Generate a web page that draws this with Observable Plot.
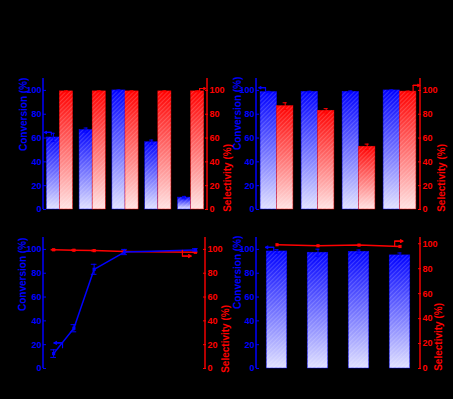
<!DOCTYPE html>
<html><head><meta charset="utf-8">
<script src="https://cdn.jsdelivr.net/npm/d3@7"></script>
<script src="https://cdn.jsdelivr.net/npm/@observablehq/plot@0.6"></script>
<style>
html,body{margin:0;padding:0;background:#000;}
#chart{position:relative;width:453px;height:399px;background:#000;overflow:hidden;}
#chart svg{position:absolute;left:0;top:0;}
</style></head><body><div id="chart"></div>
<script>
// ---- data ----
const yTicks = [0, 20, 40, 60, 80, 100];
const convLabel = ["Conversion (%)"];
const selLabel = ["Selectivity (%)"];

// panel a (top-left): 5 catalysts
const groupsA = [1, 2, 3, 4, 5];
const convA = [60.5, 66.7, 100, 56.5, 10];
const convErrA = [3.5, 1.7, 0.4, 1.8, 1];
const selA = [99.2, 99.2, 99.2, 99.2, 99.2];
const selErrA = [0.4, 0.4, 0.4, 0.4, 0.4];

// panel b (top-right): 4 substrates
const groupsB = [1, 2, 3, 4];
const convB = [98.6, 98.8, 98.8, 100];
const convErrB = [0.6, 0.5, 0.8, 0.4];
const selB = [86.8, 82.9, 52.7, 99];
const selErrB = [2.8, 1.8, 2.2, 0.4];

// panel c (bottom-left): time course
const timeC = [1, 2, 3, 4.5, 8];
const convC = [12.5, 33.8, 83.3, 97.8, 99.6];
const convErrC = [3.2, 3, 4.2, 2.2, 1];
const selC = [99.7, 99.3, 99, 98.2, 97.6];
const selErrC = [0.3, 0.3, 0.3, 0.5, 0.3];

// panel d (bottom-right): recycling runs
const groupsD = [1, 2, 3, 4];
const convD = [98.3, 97.2, 98, 95];
const convErrD = [1.5, 3, 1.5, 2];
const selD = [99.2, 98.4, 98.9, 97.8];

// annotation arrows (data units): polyline, last segment carries the head
const arrowA_conv = [[0.74, 62.5], [0.74, 64.7], [0.53, 64.7]];
const arrowA_sel = [[5.26, 99.2], [5.26, 101.6], [5.44, 101.6]];
const arrowB_conv = [[0.72, 99.4], [0.72, 102.3], [0.56, 102.3]];
const arrowB_sel = [[4.32, 100], [4.32, 104.2], [4.48, 104.2]];
const arrowC_conv = [[1.44, 17.5], [1.44, 21.5], [1.02, 21.5]];
const arrowC_sel = [[7.36, 99.2], [7.36, 94.4], [7.79, 94.4]];
const arrowD_conv = [[0.92, 98.9], [0.92, 101.7], [0.72, 101.7]];
const arrowD_sel = [[4.0, 97.8], [3.87, 97.8], [3.87, 102.1], [4.07, 102.1]];

// ---- styling helpers ----
const W = 453, H = 399;
const BLUE = "#0000ff", RED = "#ff0000", RED_AX = "#f00000";
const FONT = "'Liberation Sans', Arial, Helvetica, sans-serif";
const baseStyle = {background: "transparent", overflow: "visible", fontFamily: FONT, fontWeight: "bold", fontSize: "9px"};

function defsMark(id) {
  return () => {
    const g = d3.create("svg:g");
    const defs = g.append("defs");
    const gb = defs.append("linearGradient").attr("id", id + "gB").attr("x1", 0).attr("y1", 0).attr("x2", 0).attr("y2", 1);
    gb.append("stop").attr("offset", 0).attr("stop-color", "#0000ff");
    gb.append("stop").attr("offset", 1).attr("stop-color", "#e0e0ff");
    const gr = defs.append("linearGradient").attr("id", id + "gR").attr("x1", 0).attr("y1", 0).attr("x2", 0).attr("y2", 1);
    gr.append("stop").attr("offset", 0).attr("stop-color", "#ff0000");
    gr.append("stop").attr("offset", 1).attr("stop-color", "#ffe2e2");
    const p = defs.append("pattern").attr("id", id + "h").attr("patternUnits", "userSpaceOnUse")
      .attr("width", 3).attr("height", 3).attr("patternTransform", "rotate(45)");
    p.append("rect").attr("width", 1).attr("height", 3).attr("fill", "#ffffff").attr("fill-opacity", 0.18);
    return g.node();
  };
}

function axisLine(side, color) {
  return (index, scales, values, dims) => {
    const x = side === "left" ? dims.marginLeft : dims.width - dims.marginRight;
    return d3.create("svg:line").attr("x1", x).attr("x2", x)
      .attr("y1", dims.marginTop).attr("y2", dims.height - dims.marginBottom)
      .attr("stroke", color).attr("stroke-width", 1.5).node();
  };
}

function yAxis(side, color) {
  return Plot.axisY({anchor: side, ticks: yTicks, tickSize: -3, tickPadding: 5, color, fontSize: 9, label: null});
}

function axisLabel(text, side, color, dx, dy = 0) {
  return Plot.text(text, {text: d => d, frameAnchor: side, rotate: -90, dx, dy, fill: color, fontSize: 10, fontWeight: "bold"});
}

function errorBars(data, xf, yf, ef, color, cap) {
  return [
    Plot.ruleX(data, {x: xf, y1: d => yf(d) - ef(d), y2: d => yf(d) + ef(d), stroke: color, strokeWidth: 1}),
    Plot.ruleY(data, {y: d => yf(d) + ef(d), x1: d => xf(d) - cap, x2: d => xf(d) + cap, stroke: color, strokeWidth: 1}),
    Plot.ruleY(data, {y: d => yf(d) - ef(d), x1: d => xf(d) - cap, x2: d => xf(d) + cap, stroke: color, strokeWidth: 1})
  ];
}

function bentArrow(path, color) {
  const n = path.length;
  const pts = path.map(([x, y]) => ({x, y}));
  return [
    Plot.line(pts, {x: "x", y: "y", stroke: color, strokeWidth: 1.2}),
    Plot.arrow([{a: path[n - 2], b: path[n - 1]}], {x1: d => d.a[0], y1: d => d.a[1], x2: d => d.b[0], y2: d => d.b[1], stroke: color, strokeWidth: 1.2, headLength: 4})
  ];
}

function bars(data, id, x1f, x2f, yf, color, grad) {
  return [
    Plot.rect(data, {x1: x1f, x2: x2f, y1: () => 0, y2: yf, fill: `url(#${id}${grad})`, stroke: color, strokeWidth: 0.6, strokeOpacity: 0.8}),
    Plot.rect(data, {x1: x1f, x2: x2f, y1: () => 0, y2: yf, fill: `url(#${id}h)`})
  ];
}

function frame(m, xDomain, yDomain, marks) {
  return Plot.plot({
    width: W, height: H,
    marginLeft: m[0], marginRight: m[1], marginTop: m[2], marginBottom: m[3],
    x: {domain: xDomain, axis: null},
    y: {domain: yDomain, axis: null},
    style: baseStyle,
    marks
  });
}

const chart = document.getElementById("chart");

// ---- panel a ----
const dA = groupsA.map((g, i) => ({g, conv: convA[i], ce: convErrA[i], sel: selA[i], se: selErrA[i]}));
chart.append(frame([43, 246, 78, 190], [0.5, 5.5], [0, 110], [
  defsMark("pa"),
  ...bars(dA, "pa", d => d.g - 0.4, d => d.g, d => d.conv, BLUE, "gB"),
  ...bars(dA, "pa", d => d.g, d => d.g + 0.4, d => d.sel, RED, "gR"),
  ...errorBars(dA, d => d.g - 0.2, d => d.conv, d => d.ce, BLUE, 0.06),
  ...errorBars(dA, d => d.g + 0.2, d => d.sel, d => d.se, RED, 0.06),
  axisLine("left", BLUE), axisLine("right", RED_AX),
  yAxis("left", BLUE), yAxis("right", RED),
  axisLabel(convLabel, "left", BLUE, -20, 7),
  axisLabel(selLabel, "right", RED, 20, 0),
  ...bentArrow(arrowA_conv, BLUE),
  ...bentArrow(arrowA_sel, RED)
]));

// ---- panel b ----
const dB = groupsB.map((g, i) => ({g, conv: convB[i], ce: convErrB[i], sel: selB[i], se: selErrB[i]}));
chart.append(frame([256, 33, 78, 190], [0.5, 4.5], [0, 110], [
  defsMark("pb"),
  ...bars(dB, "pb", d => d.g - 0.4, d => d.g, d => d.conv, BLUE, "gB"),
  ...bars(dB, "pb", d => d.g, d => d.g + 0.4, d => d.sel, RED, "gR"),
  ...errorBars(dB, d => d.g - 0.2, d => d.conv, d => d.ce, BLUE, 0.05),
  ...errorBars(dB, d => d.g + 0.2, d => d.sel, d => d.se, RED, 0.05),
  axisLine("left", BLUE), axisLine("right", RED_AX),
  yAxis("left", BLUE), yAxis("right", RED),
  axisLabel(convLabel, "left", BLUE, -19, 6),
  axisLabel(selLabel, "right", RED, 21, 0),
  ...bentArrow(arrowB_conv, BLUE),
  ...bentArrow(arrowB_sel, RED)
]));

// ---- panel c ----
const dC = timeC.map((t, i) => ({t, conv: convC[i], ce: convErrC[i], sel: selC[i], se: selErrC[i]}));
chart.append(frame([43, 248, 237, 31], [0.5, 8.5], [0, 110], [
  Plot.line(dC, {x: "t", y: "sel", stroke: RED, strokeWidth: 1.5}),
  ...errorBars(dC, d => d.t, d => d.sel, d => d.se, RED, 0.12),
  Plot.dot(dC, {x: "t", y: "sel", symbol: "square", r: 1.8, fill: RED}),
  Plot.line(dC, {x: "t", y: "conv", stroke: BLUE, strokeWidth: 1.5}),
  ...errorBars(dC, d => d.t, d => d.conv, d => d.ce, BLUE, 0.14),
  Plot.dot(dC, {x: "t", y: "conv", symbol: "square", r: 1.8, fill: BLUE}),
  axisLine("left", BLUE), axisLine("right", RED_AX),
  yAxis("left", BLUE), yAxis("right", RED),
  axisLabel(convLabel, "left", BLUE, -21, 8),
  axisLabel(selLabel, "right", RED, 20, 2),
  ...bentArrow(arrowC_conv, BLUE),
  ...bentArrow(arrowC_sel, RED)
]));

// ---- panel d ----
const dD = groupsD.map((g, i) => ({g, conv: convD[i], ce: convErrD[i], sel: selD[i]}));
chart.append(frame([256, 33, 237, 31], [0.5, 4.5], [0, 110], [
  defsMark("pd"),
  ...bars(dD, "pd", d => d.g - 0.25, d => d.g + 0.25, d => d.conv, BLUE, "gB"),
  ...errorBars(dD, d => d.g, d => d.conv, d => d.ce, BLUE, 0.05),
  axisLine("left", BLUE),
  yAxis("left", BLUE),
  axisLabel(convLabel, "left", BLUE, -19, 6),
  ...bentArrow(arrowD_conv, BLUE)
]));
chart.append(frame([256, 33, 237, 31], [0.5, 4.5], [0, 105], [
  Plot.line(dD, {x: "g", y: "sel", stroke: RED, strokeWidth: 1.5}),
  Plot.dot(dD, {x: "g", y: "sel", symbol: "square", r: 1.8, fill: RED}),
  axisLine("right", RED_AX),
  yAxis("right", RED),
  axisLabel(selLabel, "right", RED, 18, 0),
  ...bentArrow(arrowD_sel, RED)
]));
</script>
</body></html>
